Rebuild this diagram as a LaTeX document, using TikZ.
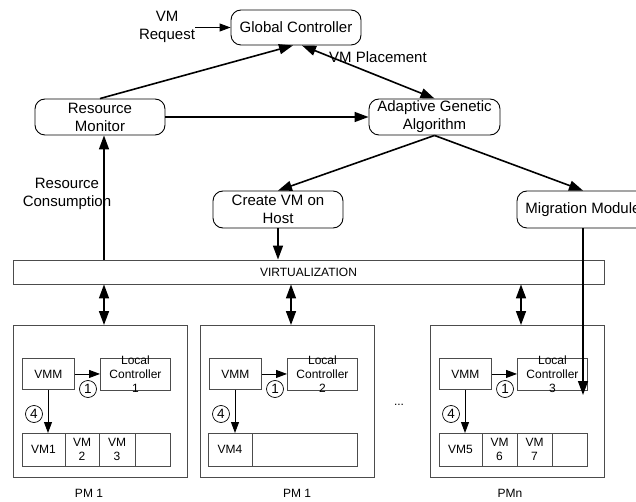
\documentclass[tikz,border=0pt]{standalone}
\usepackage{fontspec}
\setmainfont{Liberation Sans}
\usetikzlibrary{arrows.meta}
\begin{document}
\begin{tikzpicture}[x=1pt,y=-1pt,
  rbox/.style={draw=black, line width=0.9pt, rounded corners=10pt, align=center, inner sep=0pt, font=\fontsize{15}{18}\selectfont, minimum height=36pt, fill=white},
  sbox/.style={draw=black!70, line width=0.9pt, inner sep=0pt, fill=white},
  small/.style={font=\fontsize{12}{14}\selectfont, align=center, inner sep=0pt},
  big/.style={font=\fontsize{15}{18}\selectfont, align=center, inner sep=0pt},
  mainarr/.style={line width=1.6pt, -{Triangle[length=14pt,width=10pt]}},
  dblarr/.style={line width=1.6pt, {Triangle[length=14pt,width=10pt]}-{Triangle[length=14pt,width=10pt]}},
  thinarr/.style={line width=0.9pt, -{Triangle[length=11pt,width=8pt]}},
  circ/.style={circle, draw=black, line width=0.7pt, minimum size=17pt, inner sep=0pt, font=\fontsize{13.5}{15}\selectfont},
  cell/.style={sbox, small, minimum height=33pt},
]
\useasboundingbox (0,0) rectangle (636,502);

% top level
\node[rbox, minimum width=130pt, minimum height=35pt] (gc) at (296,27.5) {Global Controller};
\node[big] (req) at (167,27) {VM\\Request};
\node[rbox, minimum width=130pt] (mon) at (100,117) {Resource\\Monitor};
\node[rbox, minimum width=131pt] (ag) at (434.5,117) {Adaptive Genetic\\Algorithm};
\node[rbox, minimum width=130pt, minimum height=37pt] (cv) at (278,209.5) {Create VM on\\Host};
\node[rbox, minimum width=132pt, minimum height=37pt] (mig) at (583,209.5) {Migration Module};
\node[sbox, small, minimum width=591pt, minimum height=24pt] (virt) at (308.5,272) {VIRTUALIZATION};
\node[big] (rc) at (67,193.5) {Resource\\Consumption};
\node[big] (vmp) at (378,57) {VM Placement};

\draw[thinarr] (req.east |- gc.west) -- (gc.west);
\draw[mainarr] (mon.north) -- ([xshift=-3pt]gc.south);
\draw[dblarr] ([xshift=6pt]gc.south) -- (ag.north);
\draw[mainarr] (mon.east) -- (ag.west);
\draw[mainarr] (ag.south) -- (cv.north);
\draw[mainarr] (ag.south) -- (mig.north);
\coordinate (rcx) at (104,0);
\draw[mainarr] (virt.north -| rcx) -- (mon.south -| rcx);
\draw[mainarr] (cv.south) -- (cv.south |- virt.north);

% physical machines
\foreach \x/\i in {13/1, 200/2, 430/3} {
  \node[sbox, minimum width=174pt, minimum height=152pt, anchor=north west] (pm\i) at (\x,325) {};
  \node[sbox, small, minimum width=52pt, minimum height=31pt, anchor=north west] (vmm\i) at (\x+9,358) {VMM};
  \node[sbox, minimum width=70pt, minimum height=32pt, anchor=north west] (lc\i) at (\x+87,358) {};
  \node[small] (lct\i) at (lc\i.center) {Local\\Controller\\\i};
  \draw[thinarr] (vmm\i.east) -- (vmm\i.east -| lc\i.west);
  \node[circ] (cA\i) at (\x+75,389) {1};
  \coordinate (dn\i) at (\x+35,389);
  \node[sbox, minimum width=148pt, minimum height=33pt, anchor=north west] (row\i) at (\x+9,433) {};
  \draw[thinarr] (vmm\i.south -| dn\i) -- (row\i.north -| dn\i);
  \node[circ] (cB\i) at (\x+21,414) {4};
  \coordinate (t\i) at (\x+91,325);
  \draw[dblarr] (virt.south -| t\i) -- (t\i);
}

% VM cells
\node[cell, minimum width=43pt] (vm1) at (43.5,449.5) {VM1};
\node[cell, minimum width=34pt] (vm2) at (82,449.5) {VM\\2};
\node[cell, minimum width=36pt] (vm3) at (117,449.5) {VM\\3};
\node[cell, minimum width=44pt] (vm4) at (230,449.5) {VM4};
\node[cell, minimum width=43pt] (vm5) at (460.5,449.5) {VM5};
\node[cell, minimum width=35pt] (vm6) at (499.5,449.5) {VM\\6};
\node[cell, minimum width=35pt] (vm7) at (534.5,449.5) {VM\\7};

\node[small] (pml1) at (89,493) {PM 1};
\node[small] (pml2) at (297,493) {PM 1};
\node[small] (pml3) at (510,493) {PMn};
\node[small] (dots) at (399,405) {...};

\coordinate (migend) at (583,395);
\draw[mainarr] (mig.south) -- (migend);
\end{tikzpicture}
\end{document}
